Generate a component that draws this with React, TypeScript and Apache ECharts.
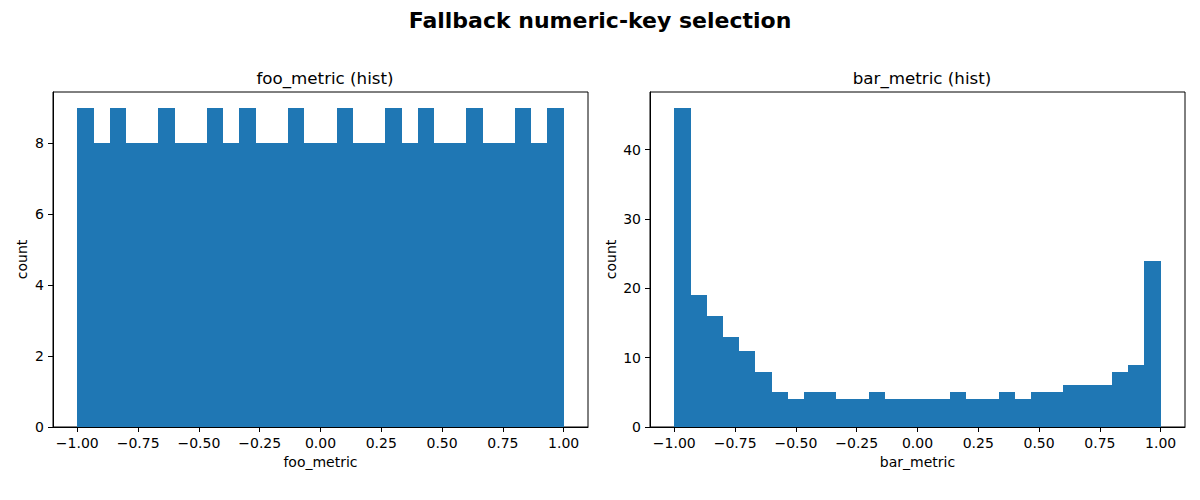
import React, { useEffect, useRef } from "react";
import * as echarts from "echarts";

const NUM_BINS = 30;
const X_MIN = -1;
const X_MAX = 1;
const fooCounts = [9, 8, 9, 8, 8, 9, 8, 8, 9, 8, 9, 8, 8, 9, 8, 8, 9, 8, 8, 9, 8, 9, 8, 8, 9, 8, 8, 9, 8, 9];
const barCounts = [46, 19, 16, 13, 11, 8, 5, 4, 5, 5, 4, 4, 5, 4, 4, 4, 4, 5, 4, 4, 5, 4, 5, 5, 6, 6, 6, 8, 9, 24];
const xTicks = [-1, -0.75, -0.5, -0.25, 0, 0.25, 0.5, 0.75, 1];
const fooYTicks = [0, 2, 4, 6, 8];
const barYTicks = [0, 10, 20, 30, 40];

const FONT = "DejaVu Sans";
const BLUE = "#1f77b4";

function histData(counts: number[]) {
  const w = (X_MAX - X_MIN) / NUM_BINS;
  return counts.map((c, i) => [X_MIN + i * w, X_MIN + (i + 1) * w, c]);
}

const fmtX = (v: number) => (v < 0 ? "\u2212" : "") + Math.abs(v).toFixed(2);

export default function App() {
  const ref = useRef<HTMLDivElement>(null);
  useEffect(() => {
    if (!ref.current) return;
    const chart = echarts.init(ref.current, undefined, { renderer: "svg" });
    const grids = [
      { left: 53, right: 612, top: 92, bottom: 73 },
      { left: 650, right: 15, top: 92, bottom: 73 },
    ].map((g) => ({ ...g, show: true, borderColor: "#000", borderWidth: 1, backgroundColor: "transparent", containLabel: false }));
    const mkX = (idx: number, name: string) => ({
      type: "value",
      gridIndex: idx,
      min: -1.1,
      max: 1.1,
      name,
      nameLocation: "middle",
      nameGap: 28,
      nameTextStyle: { fontFamily: FONT, fontSize: 14, color: "#000" },
      splitLine: { show: false },
      axisLine: { show: true, onZero: false, lineStyle: { color: "#000", width: 1 } },
      axisTick: { show: true, length: 5, customValues: xTicks, lineStyle: { color: "#000" } },
      axisLabel: { customValues: xTicks, formatter: fmtX, margin: 9, fontFamily: FONT, fontSize: 14, color: "#000" },
    });
    const mkY = (idx: number, max: number, ticks: number[]) => ({
      type: "value",
      gridIndex: idx,
      min: 0,
      max,
      name: "count",
      nameLocation: "middle",
      nameGap: idx === 0 ? 24 : 32,
      nameRotate: 90,
      nameTextStyle: { fontFamily: FONT, fontSize: 14, color: "#000" },
      splitLine: { show: false },
      axisLine: { show: true, onZero: false, lineStyle: { color: "#000", width: 1 } },
      axisTick: { show: true, length: 5, customValues: ticks, lineStyle: { color: "#000" } },
      axisLabel: { customValues: ticks, margin: 9, fontFamily: FONT, fontSize: 14, color: "#000" },
    });
    const renderItem = (params: any, api: any) => {
      const x0 = api.value(0);
      const x1 = api.value(1);
      const y = api.value(2);
      const p0 = api.coord([x0, y]);
      const p1 = api.coord([x1, 0]);
      const l = Math.round(p0[0]);
      const r = Math.round(p1[0]);
      const t = Math.round(p0[1]);
      const b = Math.round(p1[1]);
      return {
        type: "rect",
        shape: { x: l, y: t, width: r - l, height: b - t },
        style: { fill: BLUE },
      };
    };
    chart.setOption({
      animation: false,
      title: [
        { text: "Fallback numeric-key selection", left: "center", top: 4, textStyle: { fontFamily: FONT, fontSize: 22, fontWeight: "bold", color: "#000" } },
        { text: "foo_metric (hist)", left: 320, top: 64, textAlign: "center", textStyle: { fontFamily: FONT, fontSize: 16.7, fontWeight: "normal", color: "#000" } },
        { text: "bar_metric (hist)", left: 917, top: 64, textAlign: "center", textStyle: { fontFamily: FONT, fontSize: 16.7, fontWeight: "normal", color: "#000" } },
      ],
      grid: grids,
      xAxis: [mkX(0, "foo_metric"), mkX(1, "bar_metric")],
      yAxis: [mkY(0, 9 * 1.05, fooYTicks), mkY(1, 46 * 1.05, barYTicks)],
      series: [
        { type: "custom", xAxisIndex: 0, yAxisIndex: 0, data: histData(fooCounts), renderItem, encode: { x: [0, 1], y: 2 } },
        { type: "custom", xAxisIndex: 1, yAxisIndex: 1, data: histData(barCounts), renderItem, encode: { x: [0, 1], y: 2 } },
      ],
    });
    return () => chart.dispose();
  }, []);
  return <div ref={ref} style={{ width: 1200, height: 500, position: "absolute", left: 0, top: 0 }} />;
}
